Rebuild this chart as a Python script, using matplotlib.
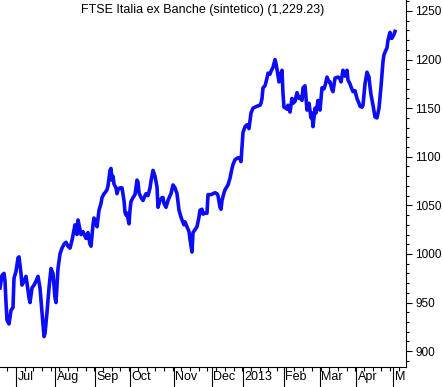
import matplotlib
matplotlib.use('Agg')
import matplotlib.pyplot as plt
import matplotlib.transforms as mtransforms
from matplotlib.patches import Rectangle
from matplotlib.ticker import MultipleLocator

plt.rcParams['font.family'] = ['Liberation Sans', 'DejaVu Sans']

title = 'FTSE Italia ex Banche (sintetico) (1,229.23)'

# posizione lungo l'asse dei tempi (sedute) e valore dell'indice
t = [0, 2, 4, 5, 6, 7, 9, 11, 13, 14, 16, 18, 19, 21, 22, 24, 26, 27, 29, 30,
     32, 34, 36, 38, 40, 42, 44, 45, 47, 49, 51, 53, 55, 56, 58, 60, 62, 64, 66,
     68, 70, 72, 74, 75, 77, 78, 80, 81, 83, 86, 88, 90, 91, 93, 94, 96, 97, 99,
     101, 102, 104, 105, 107, 108, 110, 111, 112, 113, 114, 116, 117, 118, 120,
     122, 124, 125, 126, 127, 129, 130, 131, 133, 135, 137, 138, 139, 141, 143,
     145, 146, 148, 150, 151, 153, 155, 157, 158, 160, 162, 163, 164, 166, 168,
     170, 171, 173, 175, 177, 179, 181, 182, 184, 185, 187, 189, 190, 192, 193,
     195, 197, 199, 200, 202, 203, 205, 207, 208, 211, 213, 215, 217, 218, 220,
     221, 222, 224, 225, 228, 230, 232, 233, 235, 238, 240, 241, 242, 243, 245,
     247, 249, 251, 253, 255, 257, 260, 261, 262, 263, 265, 267, 268, 270, 271,
     273, 275, 276, 277, 279, 281, 282, 283, 284, 286, 287, 288, 290, 292, 293,
     295, 297, 299, 301, 302, 303, 305, 306, 307, 309, 311, 312, 313, 315, 316,
     318, 320, 322, 324, 325, 327, 329, 330, 332, 333, 335, 338, 340, 341, 343,
     345, 347, 348, 350, 351, 353, 355, 357, 359, 360, 362, 363, 365, 367, 369,
     370, 371, 373, 375, 377, 379, 381, 383, 384, 386, 387, 388, 390, 391, 392,
     394, 395]
v = [965, 978, 980, 972, 950, 932, 928, 942, 945, 975, 982, 996, 997, 980, 968, 972, 977, 970, 955, 950,
     965, 968, 972, 977, 965, 940, 915, 918, 940, 965, 985, 980, 955, 950, 985, 1000, 1006, 1010, 1012,
     1008, 1006, 1014, 1025, 1030, 1020, 1035, 1025, 1020, 1023, 1016, 1022, 1010, 1008, 1030, 1037, 1032, 1028, 1045,
     1052, 1058, 1062, 1063, 1066, 1070, 1086, 1088, 1076, 1080, 1072, 1068, 1062, 1066, 1068,
     1068, 1055, 1043, 1040, 1042, 1031, 1045, 1054, 1058, 1061, 1076, 1074, 1063, 1058, 1055,
     1060, 1062, 1060, 1068, 1075, 1086, 1080, 1069, 1048, 1055, 1058, 1058, 1052, 1048, 1055,
     1060, 1062, 1071, 1068, 1062, 1045, 1038, 1035, 1030, 1033, 1028, 1023, 1015, 1002, 1022,
     1025, 1028, 1038, 1045, 1046, 1041, 1042, 1042, 1061, 1061, 1062, 1063, 1062, 1060, 1048,
     1046, 1055, 1063, 1066, 1071, 1078, 1088, 1092, 1097, 1099, 1098, 1095, 1110, 1125, 1131,
     1133, 1129, 1145, 1150, 1151, 1152, 1153, 1155, 1160, 1171, 1173, 1181, 1186, 1185, 1188,
     1192, 1200, 1196, 1190, 1177, 1186, 1189, 1165, 1151, 1150, 1149, 1153, 1146, 1160, 1155,
     1157, 1166, 1160, 1162, 1158, 1171, 1173, 1160, 1148, 1155, 1140, 1145, 1131, 1150, 1145,
     1158, 1148, 1171, 1170, 1173, 1182, 1177, 1177, 1169, 1167, 1181, 1182, 1180, 1177, 1189,
     1183, 1189, 1179, 1175, 1172, 1167, 1168, 1160, 1155, 1152, 1151, 1153, 1175, 1187, 1182,
     1172, 1164, 1153, 1141, 1140, 1150, 1172, 1198, 1205, 1210, 1212, 1220, 1228, 1222, 1222,
     1226, 1229]
assert len(t) == len(v)

month_pos = [16, 55, 95, 130, 174, 212, 243, 284, 320, 356, 393]
month_labels = ['Jul', 'Aug', 'Sep', 'Oct', 'Nov', 'Dec', '2013', 'Feb', 'Mar', 'Apr', 'May']
y_ticks = [900, 950, 1000, 1050, 1100, 1150, 1200, 1250]

W, H = 443, 387
fig = plt.figure(figsize=(W / 100, H / 100), dpi=100)
ax = fig.add_axes([0, 20 / H, 406 / W, 367 / H])

ax.plot(t, v, color='#0c0cf5', lw=2.6)

ax.set_xlim(0, 406)
ax.set_ylim(883.7, 1261.3)

ax.spines['left'].set_visible(False)
ax.spines['top'].set_visible(False)
ax.spines['right'].set_linewidth(0.8)
ax.spines['bottom'].set_linewidth(0.8)

# asse y a destra
ax.yaxis.tick_right()
ax.set_yticks(y_ticks)
ax.yaxis.set_minor_locator(MultipleLocator(10))
ax.tick_params(axis='y', which='major', length=4.5, width=0.8, labelsize=8.5, pad=2)
ax.tick_params(axis='y', which='minor', length=2.2, width=0.8)

# asse x: tacche lunghe ai mesi, corte alle settimane
ax.set_xticks(month_pos)
ax.set_xticklabels([])
ax.xaxis.set_minor_locator(MultipleLocator(8.7, offset=7.3))
ax.tick_params(axis='x', which='major', length=15, width=0.8)
ax.tick_params(axis='x', which='minor', length=2.8, width=0.8)

trans = mtransforms.blended_transform_factory(ax.transData, fig.transFigure)
trans = trans + mtransforms.ScaledTranslation(1.5 / 100, 0, fig.dpi_scale_trans)
clip = Rectangle((0, 0), 406 / W, 1, transform=fig.transFigure)
for p, lab in zip(month_pos, month_labels):
    txt = ax.text(p, 1 - 377 / H, lab, transform=trans, ha='left', va='center',
                  fontsize=9, clip_on=True)
    txt.set_clip_path(clip)

ax.text(0.5, 1 - 10 / 367, title, transform=ax.transAxes, ha='center', va='center',
        fontsize=9)

fig.savefig('out.png', dpi=100)
